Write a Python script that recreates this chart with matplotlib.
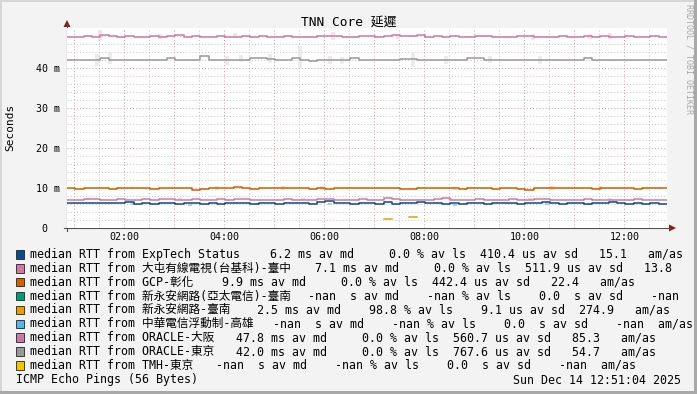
import numpy as np
import matplotlib
matplotlib.use('Agg')
import matplotlib.pyplot as plt
from matplotlib.patches import Rectangle, Polygon

plt.rcParams['font.family'] = ['DejaVu Sans Mono', 'Noto Sans CJK TC']

# time axis: hours since midnight, 12 h window ending 12:51:04, 10 min steps
t0 = 0.851
t1 = 12.851
dt = 1 / 6

# median RTT (ms)
exptech = [6.2, 6.2, 6.2, 6.2, 6.2, 6.2, 6.3, 6.5, 6.0, 6.2, 6.0, 6.2,
           6.2, 6.0, 6.2, 6.2, 6.1, 6.2, 6.0, 6.2, 6.2, 6.2, 6.0, 6.2,
           6.2, 6.1, 6.2, 6.2, 6.3, 6.0, 6.5, 6.7, 6.2, 6.2, 6.0, 6.2,
           6.2, 6.1, 6.5, 6.0, 6.2, 6.2, 6.4, 6.2, 6.2, 6.0, 6.2, 6.0,
           6.2, 6.2, 6.1, 6.2, 6.2, 6.2, 6.0, 6.2, 6.2, 6.5, 6.2, 6.0,
           6.2, 6.2, 6.1, 6.2, 6.2, 6.5, 6.2, 6.0, 6.2, 6.0, 6.2, 6.1]
datun = [7.0, 7.0, 7.3, 7.3, 7.0, 7.0, 7.3, 7.0, 7.0, 7.3, 7.0, 7.3,
         7.3, 7.0, 7.0, 7.3, 7.0, 7.0, 7.2, 7.0, 7.3, 7.3, 7.0, 7.0,
         7.0, 7.0, 7.3, 7.0, 7.0, 7.0, 7.3, 7.3, 7.0, 7.0, 7.0, 7.3,
         7.0, 7.0, 7.5, 7.3, 7.0, 7.0, 7.0, 7.0, 7.3, 7.6, 7.0, 7.0,
         7.0, 7.3, 7.0, 7.0, 7.0, 7.3, 7.0, 7.0, 7.3, 7.3, 7.0, 7.0,
         7.0, 7.0, 7.3, 7.0, 7.0, 7.0, 7.0, 7.0, 7.3, 7.0, 7.0, 7.0]
gcp = [9.9, 9.8, 9.9, 9.9, 9.9, 9.8, 9.9, 10.1, 9.9, 9.9, 9.8, 9.9,
       9.9, 9.9, 9.9, 9.6, 9.8, 9.9, 9.9, 10.1, 10.2, 9.9, 9.8, 9.9,
       9.9, 10.0, 10.0, 9.9, 9.9, 9.8, 9.9, 9.7, 10.0, 9.9, 9.9, 10.0,
       10.1, 10.0, 10.1, 10.0, 9.8, 9.8, 10.0, 10.0, 10.1, 9.9, 9.9, 9.8,
       9.9, 9.9, 9.9, 9.7, 9.9, 9.9, 9.7, 9.6, 9.9, 9.9, 10.0, 9.9,
       9.9, 9.9, 9.9, 9.8, 9.9, 9.9, 9.9, 9.9, 9.8, 9.9, 9.9, 9.9]
nan = float('nan')
xinyongan = [nan] * 38 + [2.2, nan, nan, 2.7] + [nan] * 30
osaka = [47.7, 47.8, 47.9, 47.8, 48.2, 47.9, 47.8, 48.0, 47.8, 47.8, 47.9, 47.8,
         47.9, 48.3, 47.8, 47.9, 47.8, 47.8, 47.9, 47.8, 47.8, 47.9, 47.8, 48.0,
         47.8, 47.8, 47.9, 47.8, 47.8, 47.8, 47.9, 48.1, 48.0, 47.8, 47.8, 47.9,
         48.0, 47.8, 48.1, 48.2, 47.9, 48.0, 48.2, 47.8, 47.9, 47.8, 48.0, 47.8,
         47.8, 48.1, 48.0, 47.8, 47.8, 47.8, 47.9, 48.1, 47.8, 47.8, 47.8, 48.0,
         47.8, 47.8, 48.1, 47.8, 48.1, 47.8, 47.8, 48.1, 47.8, 47.8, 48.0, 47.8]
tokyo = [42.0, 42.0, 42.1, 42.1, 42.5, 42.0, 41.9, 42.0, 42.0, 42.0, 42.1, 42.0,
         42.4, 42.0, 42.1, 42.0, 42.9, 42.0, 42.0, 42.0, 42.1, 42.0, 42.4, 42.5,
         42.2, 42.0, 42.0, 42.4, 42.0, 41.7, 42.0, 42.0, 42.0, 42.1, 42.6, 42.1,
         42.0, 42.0, 42.0, 42.1, 42.2, 42.3, 42.0, 42.0, 42.0, 42.0, 42.1, 42.0,
         42.5, 42.6, 42.0, 42.0, 42.0, 42.0, 42.0, 42.0, 42.0, 42.0, 42.0, 42.0,
         42.0, 42.0, 42.6, 42.1, 42.0, 42.0, 42.0, 42.0, 42.0, 42.0, 42.0, 42.0]

# smoke spikes: (hour, low ms, high ms)
smoke_tokyo = [(1.45, 40.5, 43.5), (1.71, 41.0, 44.0), (4.05, 40.8, 43.0), (4.33, 41.5, 43.2),
               (4.91, 41.2, 43.5), (5.51, 40.0, 45.5), (6.11, 41.0, 43.0), (6.35, 41.0, 42.8),
               (7.77, 40.2, 44.0), (8.43, 41.0, 43.0), (9.31, 41.3, 43.0), (10.31, 41.0, 43.0)]
smoke_osaka = [(1.51, 47.0, 49.5), (2.71, 47.3, 48.5), (4.21, 47.4, 48.7), (6.17, 47.0, 49.0),
               (7.47, 47.3, 48.6), (10.17, 47.0, 48.6), (11.31, 47.3, 48.5), (11.71, 47.2, 48.8)]
smoke_gcp = [(3.85, 9.5, 10.5), (5.17, 9.5, 10.4), (5.95, 9.6, 10.6), (8.61, 9.4, 10.2),
             (10.55, 9.6, 10.4), (11.51, 9.6, 10.5)]
smoke_exptech = [(2.17, 5.8, 6.2), (3.31, 5.6, 6.1), (4.65, 5.8, 6.2), (6.11, 5.8, 6.3),
                 (8.61, 5.6, 6.1), (10.45, 5.8, 6.2), (11.31, 5.8, 6.2)]
smoke_datun = [(1.27, 7.0, 7.6), (3.11, 6.9, 7.5), (5.57, 6.9, 7.4), (8.51, 7.0, 7.5),
               (10.11, 7.0, 7.5), (11.71, 6.9, 7.4)]

names = ['ExpTech Status', '大屯有線電視(台基科)-臺中', 'GCP-彰化', '新永安網路(亞太電信)-臺南',
         '新永安網路-臺南', '中華電信浮動制-高雄', 'ORACLE-大阪', 'ORACLE-東京', 'TMH-東京']
colors = ['#0B4A8B', '#CC79A7', '#D55E00', '#009E73', '#E69F00', '#56B4E9',
          '#CC79A7', '#999999', '#F5C400']
# legend stats as visible in the picture (the tail of some rows runs off the canvas)
stats = ['6.2 ms av md     0.0 % av ls  410.4 us av sd   15.1   am/as',
         '7.1 ms av md     0.0 % av ls  511.9 us av sd   13.8',
         '9.9 ms av md     0.0 % av ls  442.4 us av sd   22.4   am/as',
         '-nan  s av md    -nan % av ls    0.0  s av sd    -nan',
         '2.5 ms av md    98.8 % av ls    9.1 us av sd  274.9   am/as',
         '-nan  s av md    -nan % av ls    0.0  s av sd    -nan  am/as',
         '47.8 ms av md     0.0 % av ls  560.7 us av sd   85.3   am/as',
         '42.0 ms av md     0.0 % av ls  767.6 us av sd   54.7   am/as',
         '-nan  s av md    -nan % av ls    0.0  s av sd    -nan  am/as']
stats_x = [270, 315, 221.7, 308.3, 256.7, 272.7, 236, 236, 216]

W, H = 697, 394
fig = plt.figure(figsize=(W / 100, H / 100), dpi=100)
fig.patch.set_facecolor('#F3F3F3')

# overlay in pixel coords
ov = fig.add_axes([0, 0, 1, 1], zorder=0)
ov.set_xlim(0, W)
ov.set_ylim(H, 0)
ov.axis('off')

# frame shading
ov.add_patch(Rectangle((0, 0), W, 2, color='#D6D6D6', lw=0))
ov.add_patch(Rectangle((0, 0), 2, H, color='#D6D6D6', lw=0))
ov.add_patch(Rectangle((W - 3, 0), 3, H, color='#A8A8A8', lw=0))
ov.add_patch(Rectangle((0, H - 3), W, 3, color='#A8A8A8', lw=0))

ax = fig.add_axes([67 / W, (H - 228) / H, 600 / W, 200 / H], zorder=1)
ax.set_facecolor('white')
ax.set_xlim(t0, t1)
ax.set_ylim(0, 50)
for s in ax.spines.values():
    s.set_visible(False)

dots = (0, (1, 2))
for h in np.arange(1.5, 13, 1.0):
    ax.axvline(h, color='#C8C8C8', lw=0.75, ls=dots, zorder=1)
for h in np.arange(1, 13, 1.0):
    ax.axvline(h, color='#EE9A9A', lw=0.75, ls=dots, zorder=1)
for v in np.arange(2, 50, 2):
    if v % 10:
        ax.axhline(v, color='#C8C8C8', lw=0.75, ls=dots, zorder=1)
for v in [10, 20, 30, 40]:
    ax.axhline(v, color='#EE9A9A', lw=0.75, ls=dots, zorder=1)

smoke_sets = [(smoke_exptech, '#B9CADF'), (smoke_datun, '#F0D2E2'), (smoke_gcp, '#F8D8C0'),
              (smoke_osaka, '#F5E0EB'), (smoke_tokyo, '#EBEBEB')]
for spikes, c in smoke_sets:
    for h, lo, hi in spikes:
        ax.bar(h, hi - lo, bottom=lo, width=0.08, color=c, lw=0, zorder=2)

t = t0 + dt * np.arange(73)
series = [(exptech, colors[0]), (datun, colors[1]), (gcp, colors[2]),
          (xinyongan, colors[4]), (osaka, colors[6]), (tokyo, colors[7])]
for vals, c in series:
    v = list(vals) + [vals[-1]]
    ax.plot(t, v, drawstyle='steps-post', color=c, lw=1.1, zorder=3)

ax.set_xticks(np.arange(2, 13, 2))
ax.set_xticklabels(['%02d:00' % h for h in range(2, 13, 2)])
ax.set_yticks([0, 10, 20, 30, 40])
ax.set_yticklabels(['0  ', '10 m', '20 m', '30 m', '40 m'])
ax.tick_params(axis='both', length=0, labelsize=7.2)
ax.tick_params(axis='y', pad=5)
ax.tick_params(axis='x', pad=3)

# axes lines and arrows
ov.plot([67, 67], [24, 231], color='#505050', lw=0.8)
ov.plot([64, 670], [228, 228], color='#505050', lw=0.8)
ov.add_patch(Polygon([(63.5, 27), (70.5, 27), (67, 20)], color='#8B1A1A', lw=0))
ov.add_patch(Polygon([(669, 224.5), (669, 231.5), (676, 228)], color='#8B1A1A', lw=0))

ov.text(348.5, 22, 'TNN Core 延遲', ha='center', va='center', fontsize=9.3)
ov.text(10, 127, 'Seconds', ha='center', va='center', rotation=90, fontsize=8)
ov.text(689, 59, 'RRDTOOL / TOBI OETIKER', ha='center', va='center', rotation=270,
        fontsize=6, color='#A8A8A8')

row_y = 254.3
for i, (n, c, s, sx) in enumerate(zip(names, colors, stats, stats_x)):
    y = row_y + 13.9 * i
    ov.add_patch(Rectangle((15.5, y - 4.3), 8.6, 8.6, facecolor=c, edgecolor='#222222', lw=0.6))
    ov.text(30, y, 'median RTT from ' + n, ha='left', va='center', fontsize=8.4)
    ov.text(sx, y, s, ha='left', va='center', fontsize=8.4)

ov.text(16, 380, 'ICMP Echo Pings (56 Bytes)', ha='left', va='center', fontsize=8.4)
ov.text(681, 380, 'Sun Dec 14 12:51:04 2025', ha='right', va='center', fontsize=8.4)

fig.savefig('out.png', dpi=100, facecolor=fig.get_facecolor())
